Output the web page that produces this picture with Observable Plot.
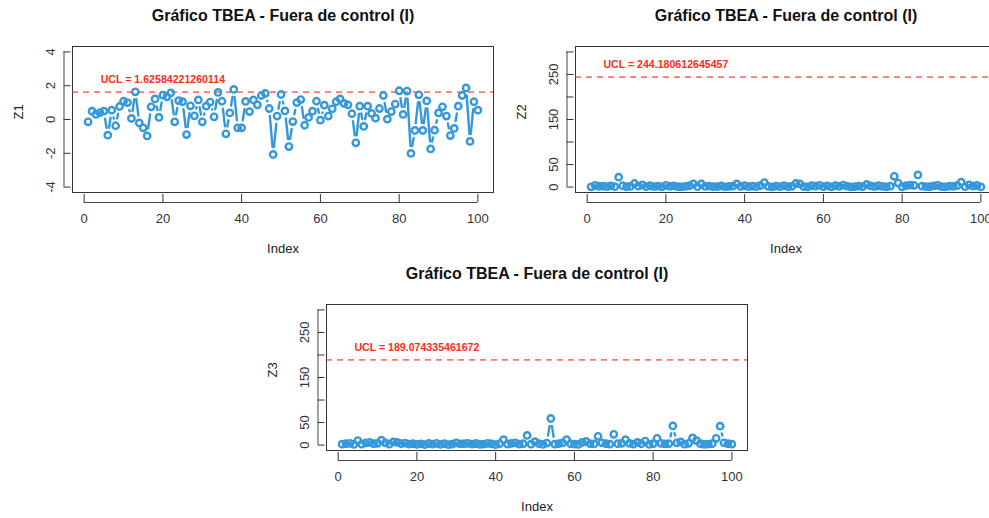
<!DOCTYPE html>
<html>
<head>
<meta charset="utf-8">
<script src="https://cdn.jsdelivr.net/npm/d3@7"></script>
<script src="https://cdn.jsdelivr.net/npm/@observablehq/plot@0.6"></script>
<style>
  html, body { margin: 0; padding: 0; background: #fff; }
  #chart { position: relative; width: 989px; height: 518px; overflow: hidden; background: #fff; }
  #chart svg { position: absolute; }
</style>
</head>
<body>
<div id="chart"></div>
<script>
// Observation index and the three monitored statistics
const index = d3.range(1, 101);

const z1 = [
  -0.14, 0.49, 0.30, 0.41, 0.49, -0.93, 0.55, -0.37, 0.77, 1.08,
  1.00, 0.06, 1.64, -0.20, -0.49, -0.97, 0.75, 1.22, 0.12, 1.44,
  1.34, 1.58, -0.14, 1.12, 1.05, -0.89, 0.81, 0.22, 1.16, -0.14,
  0.79, 1.03, 0.16, 1.60, 1.08, -0.85, 0.39, 1.78, -0.49, -0.49,
  1.07, 0.47, 1.16, 0.87, 1.42, 1.54, 0.65, -2.07, 0.20, 1.48,
  0.51, -1.60, -0.12, 1.00, 1.18, -0.34, 0.12, 0.49, 1.08, -0.04,
  0.85, 0.20, 0.63, 1.05, 1.22, 0.95, 0.87, 0.34, -1.38, 0.79,
  -0.41, 0.79, 0.36, 0.08, 0.65, 1.42, 0.02, 0.47, 0.91, 1.70,
  0.30, 1.68, -2.01, -0.65, 1.46, -0.65, 1.10, -1.74, -0.63, 0.39,
  0.75, 0.20, -0.95, -0.53, 0.79, 1.42, 1.87, -1.30, 1.05, 0.55
];

const z2 = [
  0.5, 4, 1.5, 2, 1, 2.5, 1, 22, 3, 0.8,
  1.5, 8, 2, 5, 1, 3, 1.2, 2, 0.6, 4,
  1.8, 2.5, 1, 0.7, 1.5, 3, 7, 1, 7, 1.5,
  2, 0.8, 1.2, 2.5, 0.5, 1.8, 2, 7, 1.3, 3,
  1, 2.2, 0.9, 3.5, 10, 1.5, 0.6, 2, 1, 3,
  0.8, 1.7, 8, 7, 1.2, 0.5, 3, 2, 4, 1,
  2.5, 0.7, 3, 1.5, 4.5, 2, 0.6, 1.2, 2, 0.8,
  6, 2.5, 1, 3, 1.5, 0.7, 2, 24, 9, 0.5,
  3, 4.5, 4, 27, 2, 1, 0.8, 2.5, 4, 1.2,
  0.6, 2, 1.5, 3.5, 11, 1, 5, 2, 3.5, 0.3
];

const z3 = [
  2, 3, 4, 1.5, 10, 2, 5, 6, 3, 4,
  11, 5, 2, 7, 6, 3, 4.5, 2, 3, 1.5,
  2.5, 1, 3.5, 2, 4, 1.5, 3, 1, 2, 5,
  2.5, 3, 4, 2, 3.5, 1.5, 2, 4, 2.5, 1,
  3, 12, 2, 4, 5, 2, 3, 21.5, 2, 7.5,
  3, 1.5, 4.5, 59, 2, 3, 5, 12, 3, 2,
  1.5, 6, 8, 3, 2.5, 19.5, 5, 3, 2, 24,
  3, 4, 12, 4, 2, 6, 3, 9, 1.5, 3,
  15, 4, 2.5, 3, 42.5, 5, 7, 2, 4, 16,
  10, 3, 1.5, 2, 3, 15, 42, 5, 3, 2
];

// Upper control limits
const ucl = [1.62584221260114, 244.180612645457, 189.074335461672];

// Axis ticks and labels
const xTicks = [0, 20, 40, 60, 80, 100];
const yTicksZ1 = [-4, -2, 0, 2, 4];
const yTicksZ = [0, 50, 100, 150, 200, 250, 300];
const yLabelsZ = [0, 50, 150, 250];
const yNames = ["Z1", "Z2", "Z3"];
const title = "Gráfico TBEA - Fuera de control (I)";
const uclLabelX = 20;

const blue = "#3498db";
const font = "'Liberation Sans', Arial, Helvetica, sans-serif";

function panel(values, limit, yName, yTicks, yShown, left, top) {
  const pts = values.map((v, k) => ({i: index[k], v}));
  const segs = pts.slice(1).map((p, k) => ({x1: pts[k].i, y1: pts[k].v, x2: p.i, y2: p.v}));
  // 4% padding around the data / tick range, as in a base-graphics plot
  const xPad = 0.04 * (index[index.length - 1] - index[0]);
  const xDomain = [index[0] - xPad, index[index.length - 1] + xPad];
  const y0 = yTicks[0], y1 = yTicks[yTicks.length - 1];
  const yPad = 0.04 * (y1 - y0);
  const yDomain = [y0 - yPad, y1 + yPad];

  const svg = Plot.plot({
    width: 500,
    height: 260,
    marginLeft: 72,
    marginRight: 7,
    marginTop: 46,
    marginBottom: 68,
    style: {fontFamily: font, fontSize: "13px", background: "transparent", overflow: "visible", color: "#222"},
    x: {domain: xDomain},
    y: {domain: yDomain},
    marks: [
      Plot.frame({stroke: "#333", strokeWidth: 1}),
      // axis lines spanning first to last tick
      Plot.ruleY([yDomain[0]], {x1: xTicks[0], x2: xTicks[xTicks.length - 1], dy: 10, stroke: "#444"}),
      Plot.ruleX([xDomain[0]], {y1: y0, y2: y1, dx: -8.5, stroke: "#444"}),
      Plot.axisX(xTicks, {
        tickSize: 8, dy: 2, tickPadding: 11, color: "#333", fontSize: 13, label: null,
        tickFormat: d => String(d)
      }),
      Plot.axisY(yTicks, {
        anchor: "left", tickSize: 7, dx: -1.5, tickRotate: -90, tickPadding: 9,
        color: "#333", fontSize: 13, label: null,
        tickFormat: d => (yShown.includes(d) ? String(d) : "")
      }),
      // control limit
      Plot.ruleY([limit], {stroke: "#ff3b30", strokeOpacity: 0.7, strokeWidth: 1.8, strokeDasharray: "6,5"}),
      Plot.text([limit], {
        x: uclLabelX, y: d => d, text: d => `UCL = ${d}`, dy: -12,
        fill: "#ff2a1a", fontWeight: "bold", fontSize: 10.6
      }),
      // type "b": segments with gaps around each point
      Plot.arrow(segs, {
        x1: "x1", y1: "y1", x2: "x2", y2: "y2",
        insetStart: 7.5, insetEnd: 7.5, headLength: 0,
        stroke: blue, strokeWidth: 2.4, strokeLinecap: "round"
      }),
      Plot.dot(pts, {x: "i", y: "v", r: 3.2, stroke: blue, strokeWidth: 2.4, fill: "none"}),
      // titles
      Plot.text([title], {frameAnchor: "top", dy: -37, fontWeight: "bold", fontSize: 16, fill: "#111"}),
      Plot.text(["Index"], {frameAnchor: "bottom", dy: 60, fontSize: 13, fill: "#222"}),
      Plot.text([yName], {frameAnchor: "left", dx: -54, rotate: -90, fontSize: 13, fill: "#222"})
    ]
  });
  svg.style.left = left + "px";
  svg.style.top = top + "px";
  document.getElementById("chart").appendChild(svg);
}

panel(z1, ucl[0], yNames[0], yTicksZ1, yTicksZ1, -0.5, 0);
panel(z2, ucl[1], yNames[1], yTicksZ, yLabelsZ, 502.5, -0.5);
panel(z3, ucl[2], yNames[2], yTicksZ, yLabelsZ, 254, 257.5);
</script>
</body>
</html>
